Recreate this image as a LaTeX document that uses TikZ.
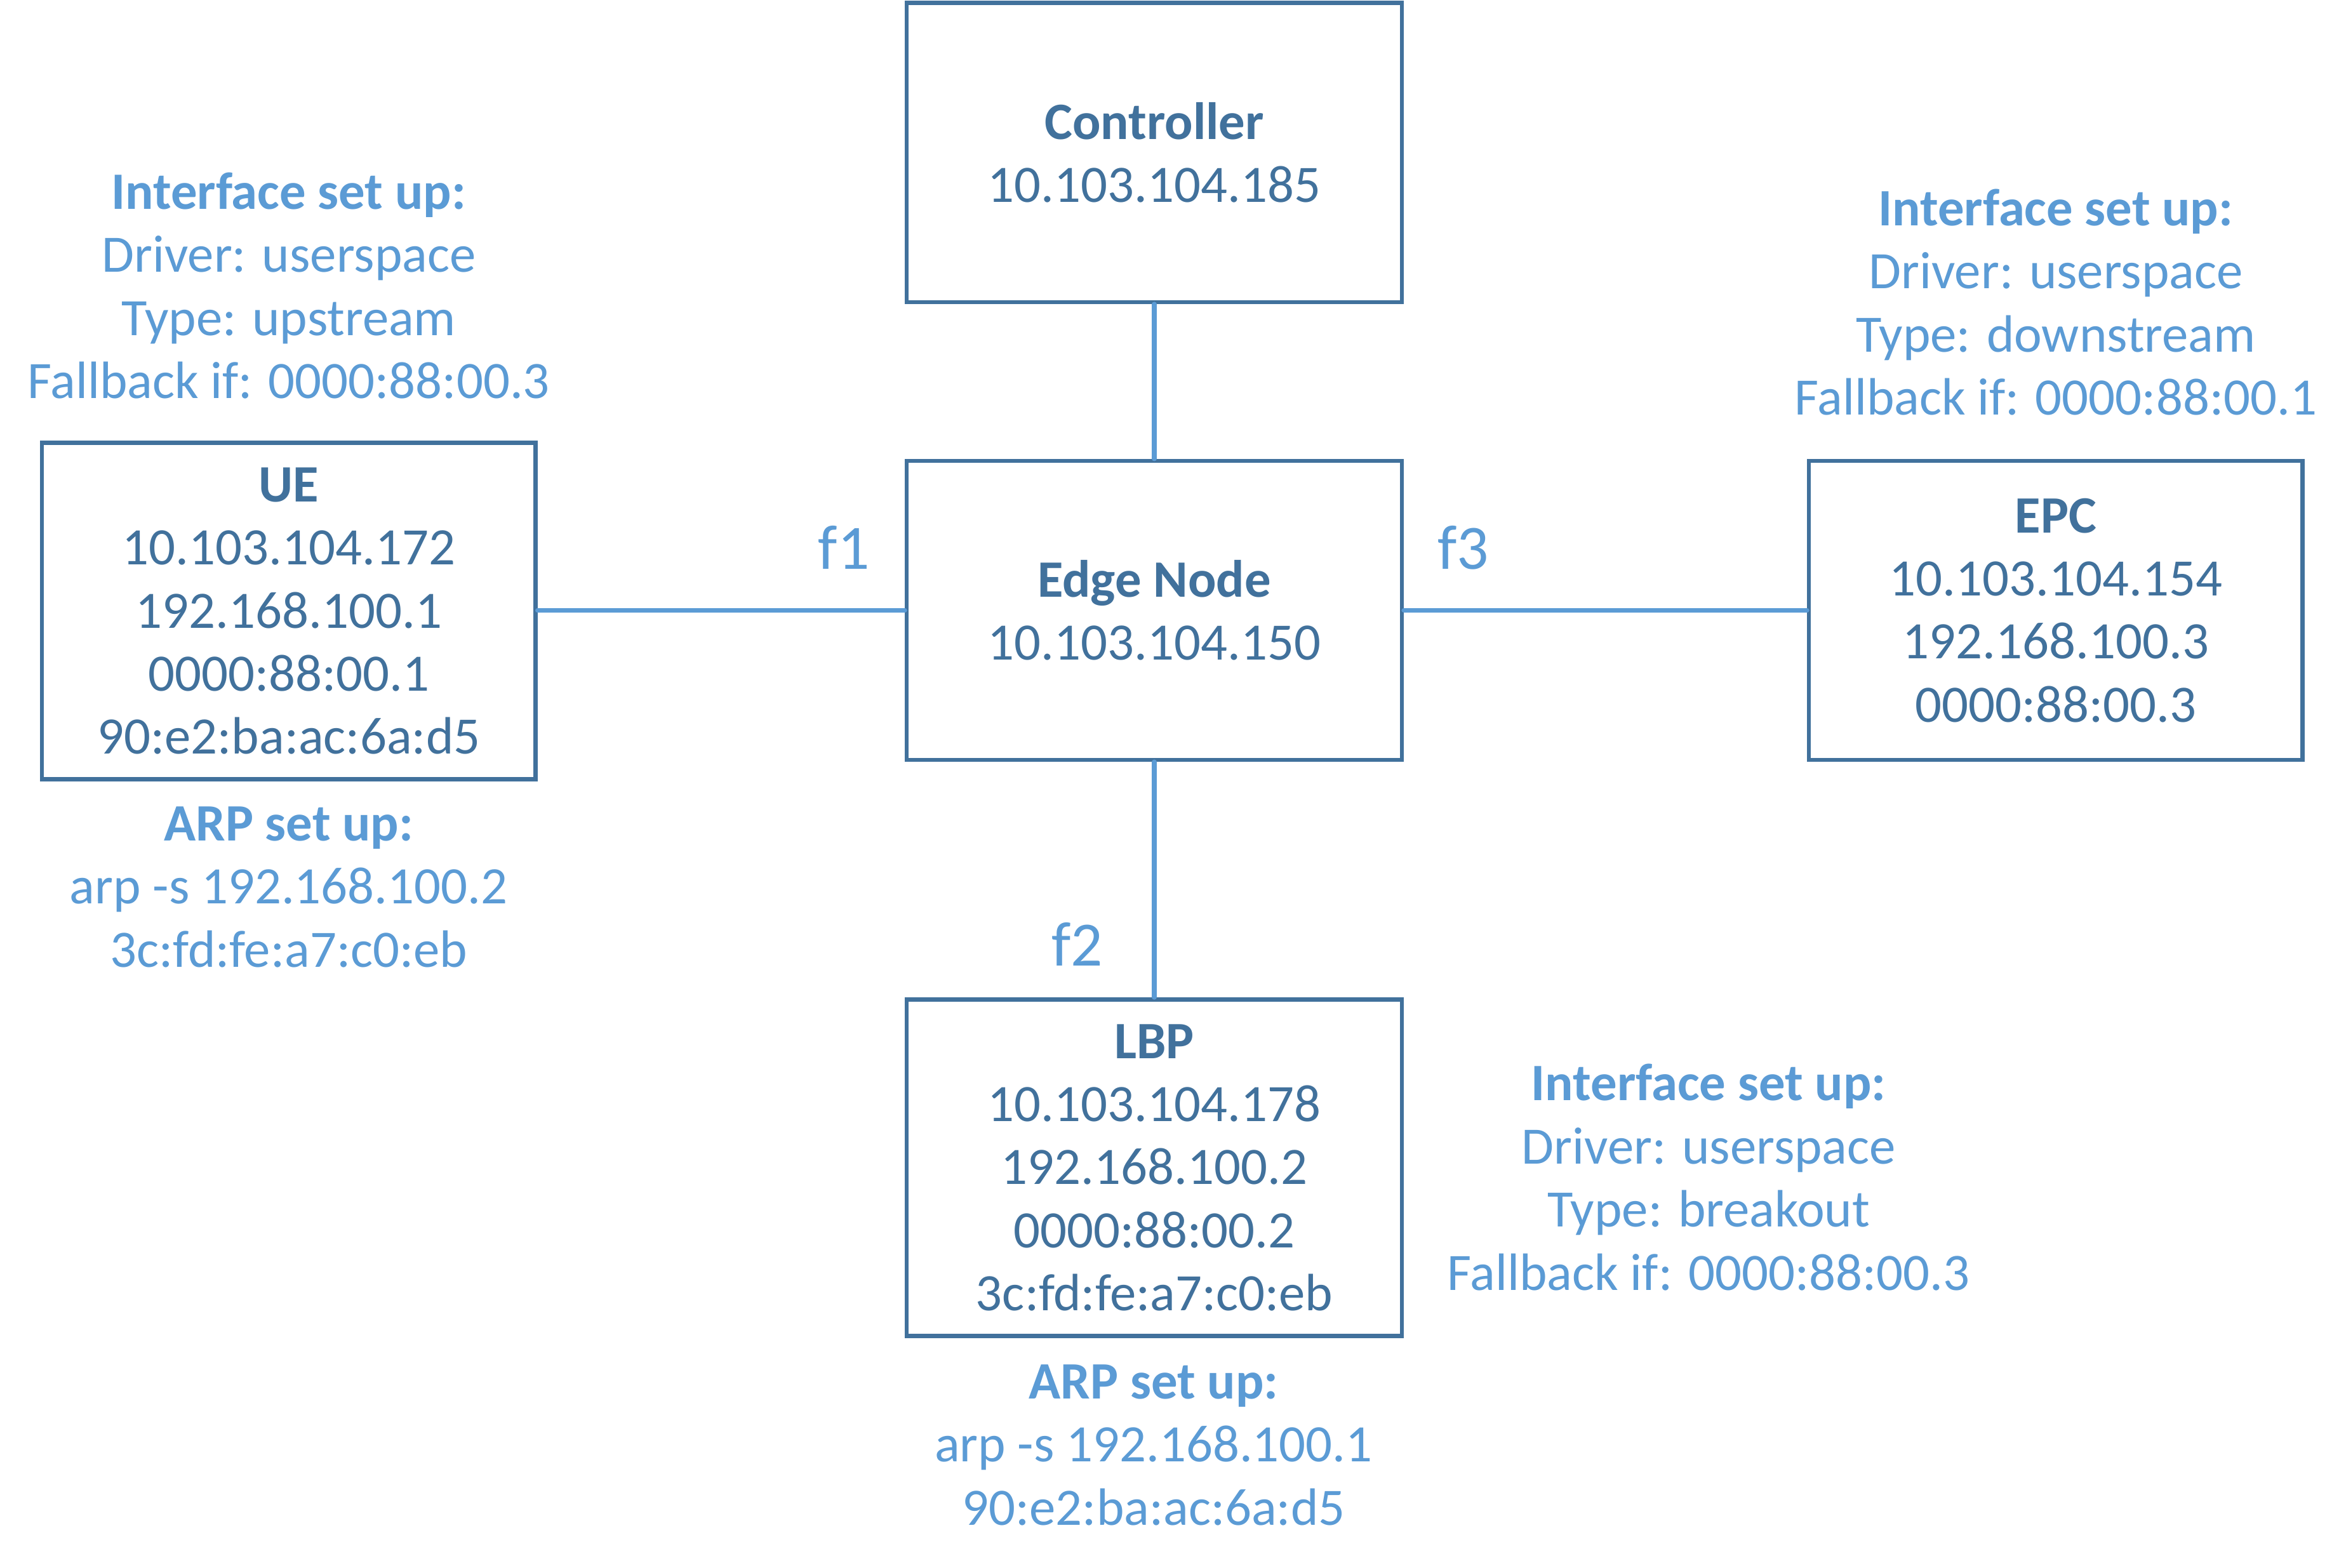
\documentclass[tikz,border=0pt]{standalone}
\usepackage{fontspec}
\setmainfont{Carlito}
\definecolor{boxblue}{HTML}{41719C}
\definecolor{lightblue}{HTML}{5B9BD5}
\begin{document}
\begin{tikzpicture}[x=0.02cm,y=-0.02cm,
  box/.style={draw=boxblue, line width=1.6pt, fill=white, text=boxblue, align=center,
    font=\fontsize{20}{24}\selectfont, inner sep=0pt},
  info/.style={text=lightblue, align=center, font=\fontsize{20}{24}\selectfont, inner sep=0pt},
  flabel/.style={text=lightblue, font=\fontsize{24}{28}\selectfont, inner sep=0pt},
  conn/.style={draw=lightblue, line width=1.9pt, line cap=round}]
\useasboundingbox[fill=white] (0,0) rectangle (1568,1048);

\node[box, minimum width=6.62cm, minimum height=4.0cm] (ctrl) at (771.5,102) {\textbf{Controller}\\10.103.104.185};
\node[box, minimum width=6.62cm, minimum height=4.0cm] (edge) at (771.5,408) {\textbf{Edge Node}\\10.103.104.150};
\node[box, minimum width=6.6cm, minimum height=4.5cm] (ue) at (193,408.5) {\textbf{UE}\\10.103.104.172\\192.168.100.1\\0000:88:00.1\\90:e2:ba:ac:6a:d5};
\node[box, minimum width=6.6cm, minimum height=4.0cm] (epc) at (1374,408) {\textbf{EPC}\\10.103.104.154\\192.168.100.3\\0000:88:00.3};
\node[box, minimum width=6.62cm, minimum height=4.5cm] (lbp) at (771.5,780.5) {\textbf{LBP}\\10.103.104.178\\192.168.100.2\\0000:88:00.2\\3c:fd:fe:a7:c0:eb};

\draw[conn] (ctrl.south) -- (edge.north);
\draw[conn] (edge.west) -- (edge.west -| ue.east);
\draw[conn] (edge.east) -- (edge.east -| epc.west);
\draw[conn] (edge.south) -- (lbp.north);

\node[flabel] (f1) at (564,366) {f1};
\node[flabel] (f3) at (978,366) {f3};
\node[flabel] (f2) at (720,631) {f2};

\node[info] (ueif) at (193,191) {\textbf{Interface set up:}\\Driver: userspace\\Type: upstream\\Fallback if: 0000:88:00.3};
\node[info] (uearp) at (193,593) {\textbf{ARP set up:}\\arp -s 192.168.100.2\\3c:fd:fe:a7:c0:eb};
\node[info] (epcif) at (1374,202) {\textbf{Interface set up:}\\Driver: userspace\\Type: downstream\\Fallback if: 0000:88:00.1};
\node[info] (lbpif) at (1142,787) {\textbf{Interface set up:}\\Driver: userspace\\Type: breakout\\Fallback if: 0000:88:00.3};
\node[info] (lbparp) at (771,966) {\textbf{ARP set up:}\\arp -s 192.168.100.1\\90:e2:ba:ac:6a:d5};
\end{tikzpicture}
\end{document}
